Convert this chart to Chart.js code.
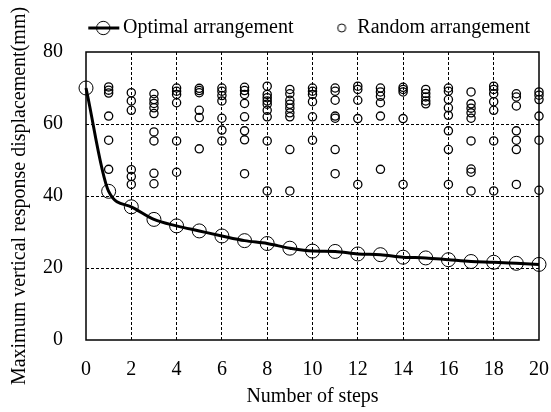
<!DOCTYPE html>
<html>
<head>
<meta charset="utf-8">
<script src="https://cdn.jsdelivr.net/npm/chart.js@4.4.0/dist/chart.umd.min.js"></script>
<style>
  html, body { margin: 0; padding: 0; background: #fff; }
  #wrap { width: 551px; height: 412px; }
</style>
</head>
<body>
<div id="wrap"><canvas id="c" width="551" height="412"></canvas></div>
<script>
// ---- data ----
const steps = [0,1,2,3,4,5,6,7,8,9,10,11,12,13,14,15,16,17,18,19,20];
const optimalValues = [70, 41.3, 37.0, 33.5, 31.7, 30.3, 28.9, 27.6, 26.8, 25.5, 24.7, 24.6, 23.9, 23.7, 23.0, 22.8, 22.3, 21.8, 21.6, 21.3, 21.0];
const randomStep1  = [70.3, 69.4, 68.6, 62.2, 55.5, 47.4];
const randomStep2  = [68.7, 66.4, 63.8, 47.3, 45.4, 43.2];
const randomStep3  = [68.4, 66.8, 65.7, 64.5, 62.9, 57.8, 55.3, 46.3, 43.4];
const randomStep4  = [70.0, 69.1, 68.2, 65.9, 55.3, 46.6];
const randomStep5  = [69.9, 69.3, 68.7, 63.8, 61.8, 53.1];
const randomStep6  = [70.0, 69.1, 67.9, 66.4, 61.6, 58.3, 55.3];
const randomStep7  = [70.2, 69.3, 68.2, 65.7, 62.0, 58.1, 55.6, 46.2];
const randomStep8  = [70.5, 68.2, 67.3, 66.4, 65.5, 63.8, 62.0, 55.3, 41.4];
const randomStep9  = [69.6, 68.4, 66.6, 65.5, 64.4, 63.1, 62.0, 52.9, 41.4];
const randomStep10 = [70.0, 69.1, 68.2, 66.2, 62.0, 55.5];
const randomStep11 = [70.0, 69.1, 66.6, 62.2, 61.6, 52.9, 46.2];
const randomStep12 = [70.5, 69.6, 66.6, 61.5, 43.2];
const randomStep13 = [70.0, 68.9, 67.7, 65.9, 62.2, 47.4];
const randomStep14 = [70.2, 69.6, 68.9, 61.5, 43.2];
const randomStep15 = [69.6, 68.5, 67.5, 66.4, 65.6];
const randomStep16 = [70.0, 69.1, 66.8, 64.5, 62.4, 58.1, 52.9, 43.2];
const randomStep17 = [68.9, 65.6, 64.4, 63.1, 61.6, 55.3, 47.5, 46.6, 41.4];
const randomStep18 = [70.5, 69.6, 68.4, 66.2, 63.8, 55.3, 41.4];
const randomStep19 = [68.4, 67.5, 65.0, 58.1, 55.5, 52.9, 43.2];
const randomStep20 = [68.9, 68.0, 66.8, 62.2, 55.5, 41.6];
const randomByStep = [null, randomStep1, randomStep2, randomStep3, randomStep4, randomStep5,
  randomStep6, randomStep7, randomStep8, randomStep9, randomStep10, randomStep11, randomStep12,
  randomStep13, randomStep14, randomStep15, randomStep16, randomStep17, randomStep18, randomStep19, randomStep20];
const xTicks = [0,2,4,6,8,10,12,14,16,18,20];
const yTicks = [0,20,40,60,80];
const seriesNames = ['Optimal arrangement', 'Random arrangement'];
const xTitle = 'Number of steps';
const yTitle = 'Maximum vertical response displacement(mm)';

// ---- build points ----
const optimalPoints = steps.map((s, i) => ({x: s, y: optimalValues[i]}));
const randomPoints = [];
steps.forEach((s) => {
  const vals = randomByStep[s];
  if (vals) vals.forEach(v => randomPoints.push({x: s, y: v}));
});

// ---- legend icons ----
function makeOptimalIcon() {
  const c = document.createElement('canvas');
  c.width = 50; c.height = 20;
  const g = c.getContext('2d');
  g.strokeStyle = '#000';
  g.lineWidth = 3;
  g.beginPath(); g.moveTo(18.2, 10); g.lineTo(49.2, 10); g.stroke();
  g.lineWidth = 1;
  g.beginPath(); g.arc(33.2, 10, 6.7, 0, Math.PI * 2); g.stroke();
  return c;
}
function makeRandomIcon() {
  const c = document.createElement('canvas');
  c.width = 40; c.height = 20;
  const g = c.getContext('2d');
  g.strokeStyle = '#000';
  g.lineWidth = 1;
  g.beginPath(); g.arc(32.3, 10, 4, 0, Math.PI * 2); g.stroke();
  return c;
}
const optimalIcon = makeOptimalIcon();
const randomIcon = makeRandomIcon();

const FONT = 'Liberation Serif';

const framePlugin = {
  id: 'frame',
  beforeDatasetsDraw(chart) {
    const {ctx, chartArea: {left, top, right, bottom}} = chart;
    ctx.save();
    ctx.strokeStyle = '#000';
    ctx.lineWidth = 1.5;
    ctx.strokeRect(left, top, right - left, bottom - top);
    ctx.restore();
  }
};

new Chart(document.getElementById('c'), {
  type: 'scatter',
  data: {
    datasets: [
      {
        label: seriesNames[0],
        data: optimalPoints,
        showLine: true,
        borderColor: '#000',
        borderWidth: 3,
        cubicInterpolationMode: 'monotone',
        pointRadius: 7,
        pointHoverRadius: 7,
        pointBorderWidth: 1,
        pointBorderColor: '#000',
        pointBackgroundColor: 'rgba(0,0,0,0)',
        backgroundColor: 'rgba(0,0,0,0)',
        clip: false
      },
      {
        label: seriesNames[1],
        data: randomPoints,
        showLine: false,
        borderColor: '#000',
        pointRadius: 4.1,
        pointHoverRadius: 4.1,
        pointBorderWidth: 1.3,
        pointBorderColor: '#000',
        pointBackgroundColor: 'rgba(0,0,0,0)',
        backgroundColor: 'rgba(0,0,0,0)',
        clip: false
      }
    ]
  },
  options: {
    responsive: false,
    animation: false,
    devicePixelRatio: 1,
    events: [],
    layout: { padding: { left: 0, right: 3, top: 0, bottom: 0 } },
    plugins: {
      tooltip: { enabled: false },
      title: {
        display: true,
        text: '',
        position: 'top',
        weight: 500,
        padding: 0,
        font: { size: 4, lineHeight: 1 }
      },
      legend: {
        display: true,
        position: 'top',
        align: 'end',
        labels: {
          usePointStyle: true,
          pointStyleWidth: 35.8,
          padding: 18,
          color: '#000',
          font: { family: FONT, size: 20 },
          generateLabels(chart) {
            const items = Chart.defaults.plugins.legend.labels.generateLabels(chart);
            items[0].pointStyle = optimalIcon;
            items[1].pointStyle = randomIcon;
            return items;
          }
        }
      }
    },
    scales: {
      x: {
        type: 'linear',
        position: 'bottom',
        min: xTicks[0],
        max: xTicks[xTicks.length - 1],
        afterBuildTicks(scale) { scale.ticks = xTicks.map(v => ({value: v})); },
        afterFit(scale) { scale.height = 72; scale.paddingRight = 12; },
        ticks: {
          padding: 18,
          color: '#000',
          maxRotation: 0,
          font: { family: FONT, size: 20 }
        },
        grid: {
          drawTicks: false,
          color: '#000',
          lineWidth: (c) => (c.tick && (c.tick.value === 0 || c.tick.value === 20)) ? 0 : 1
        },
        border: { display: false, dash: [3, 2] },
        title: {
          display: true,
          text: xTitle,
          color: '#000',
          font: { family: FONT, size: 20 },
          padding: { top: 0, bottom: 3 }
        }
      },
      y: {
        type: 'linear',
        min: yTicks[0],
        max: yTicks[yTicks.length - 1],
        afterBuildTicks(scale) { scale.ticks = yTicks.map(v => ({value: v})); },
        afterFit(scale) { scale.width = 86; },
        ticks: {
          padding: 23,
          color: '#000',
          font: { family: FONT, size: 20 }
        },
        grid: {
          drawTicks: false,
          color: '#000',
          lineWidth: (c) => (c.tick && (c.tick.value === 0 || c.tick.value === 80)) ? 0 : 1
        },
        border: { display: false, dash: [3, 2] },
        title: {
          display: true,
          text: yTitle,
          color: '#000',
          font: { family: FONT, size: 20 },
          padding: { top: 8, bottom: 10 }
        }
      }
    }
  },
  plugins: [framePlugin]
});
</script>
</body>
</html>
